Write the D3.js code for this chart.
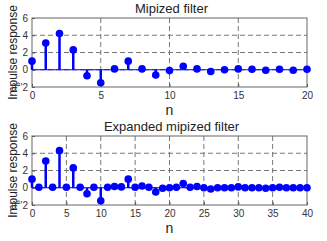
<!DOCTYPE html>
<html>
<head>
<script src="https://d3js.org/d3.v7.min.js"></script>
<style>
  body { margin: 0; background: #fff; }
  svg { font-family: "Liberation Sans", Arial, sans-serif; }
  .tick text { fill: #333; }
</style>
</head>
<body>
<svg width="327" height="241"></svg>
<script>
// Mipized filter, n = 0..20
var mipN = d3.range(0, 21);
var mipVals = [1.0, 3.1, 4.2, 2.3, -0.7, -1.5, 0.1, 1.0, 0.1, -0.6, -0.1,
               0.4, 0.1, -0.2, 0.0, 0.1, 0.05, -0.05, 0.05, -0.05, 0.05];

// Expanded mipized filter, n = 0..40
var expN = d3.range(0, 41);
var expVals = [1.0, 0.05, 3.1, 0.05, 4.3, 0.05, 2.3, 0.05, -0.7, 0.05, -1.5,
               0.05, 0.15, 0.1, 1.0, 0.05, 0.2, 0.05, -0.5, -0.05, 0.0,
               0.05, 0.5, 0.05, 0.15, 0.0, -0.15, 0.0, 0.0, 0.0, 0.1,
               0.0, 0.0, 0.0, -0.05, 0.0, 0.05, 0.0, 0.0, 0.0, 0.0];

var yTicks = [-2, 0, 2, 4, 6];
var mipXTicks = [0, 5, 10, 15, 20];
var expXTicks = [0, 5, 10, 15, 20, 25, 30, 35, 40];

var svg = d3.select("svg");
var blue = "#0000ff";

function drawStem(top, title, ns, vals, xMax, xTicks) {
    var left = 32, right = 307, height = 69;
    var g = svg.append("g").attr("transform", "translate(0," + top + ")");

    var x = d3.scaleLinear().domain([0, xMax]).range([left, right]);
    var y = d3.scaleLinear().domain([-2, 6]).range([height, 0]);

    // dashed grid
    var grid = g.append("g");
    grid.selectAll(".gx").data(xTicks.slice(1, -1)).enter().append("line")
        .attr("x1", function(d) { return x(d); }).attr("x2", function(d) { return x(d); })
        .attr("y1", 0).attr("y2", height)
        .attr("stroke", "#777").attr("stroke-width", 1).attr("stroke-dasharray", "5,3");
    grid.selectAll(".gy").data(yTicks.slice(1, -1)).enter().append("line")
        .attr("x1", left).attr("x2", right)
        .attr("y1", function(d) { return y(d); }).attr("y2", function(d) { return y(d); })
        .attr("stroke", "#777").attr("stroke-width", 1).attr("stroke-dasharray", "5,3");

    // axes
    g.append("g").attr("transform", "translate(0," + height + ")")
        .call(d3.axisBottom(x).tickValues(xTicks).tickSize(-3).tickPadding(5))
        .call(function(a) { a.select(".domain").remove(); })
        .selectAll("text").style("font-size", "10px");
    g.append("g").attr("transform", "translate(" + left + ",0)")
        .call(d3.axisLeft(y).tickValues(yTicks).tickSize(-3).tickPadding(4))
        .call(function(a) { a.select(".domain").remove(); })
        .selectAll("text").style("font-size", "10px");
    g.selectAll(".tick line").attr("stroke", "#555");

    g.append("rect").attr("x", left).attr("y", 0)
        .attr("width", right - left).attr("height", height)
        .attr("fill", "none").attr("stroke", "#666").attr("stroke-width", 1);

    // baseline
    g.append("line").attr("x1", left).attr("x2", right)
        .attr("y1", y(0)).attr("y2", y(0))
        .attr("stroke", blue).attr("stroke-width", 1);

    // stems and markers
    g.selectAll(".stem").data(vals).enter().append("line")
        .attr("x1", function(d, i) { return x(ns[i]); })
        .attr("x2", function(d, i) { return x(ns[i]); })
        .attr("y1", y(0)).attr("y2", function(d) { return y(d); })
        .attr("stroke", blue).attr("stroke-width", 2.5);
    g.selectAll(".dot").data(vals).enter().append("circle")
        .attr("cx", function(d, i) { return x(ns[i]); })
        .attr("cy", function(d) { return y(d); })
        .attr("r", 3.8).attr("fill", blue);

    // labels
    g.append("text").attr("x", (left + right) / 2 + 2).attr("y", -5)
        .attr("text-anchor", "middle").style("font-size", "13px").attr("fill", "#222")
        .text(title);
    g.append("text").attr("x", (left + right) / 2).attr("y", height + 28)
        .attr("text-anchor", "middle").style("font-size", "14px").attr("fill", "#222")
        .text("n");
    g.append("text").attr("transform", "translate(17," + (height / 2) + ") rotate(-90)")
        .attr("text-anchor", "middle").style("font-size", "12px").attr("fill", "#222")
        .text("Impulse response");
}

drawStem(18, "Mipized filter", mipN, mipVals, 20, mipXTicks);
drawStem(136, "Expanded mipized filter", expN, expVals, 40, expXTicks);
</script>
</body>
</html>
